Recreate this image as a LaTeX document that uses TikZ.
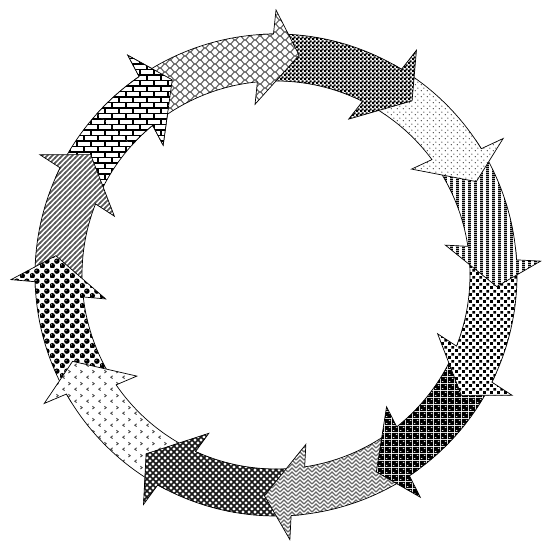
\documentclass[tikz,border=0pt]{standalone}
\usepackage{tikz}
\usetikzlibrary{patterns}

% fill patterns of the ring pieces
\pgfdeclarepatternformonly{waves}{\pgfqpoint{-1pt}{-1pt}}{\pgfqpoint{11pt}{9pt}}{\pgfqpoint{10pt}{8pt}}{%
  \pgfsetlinewidth{1.1pt}
  \pgfpathmoveto{\pgfqpoint{0pt}{0pt}}
  \pgfpathcurveto{\pgfqpoint{2pt}{0pt}}{\pgfqpoint{3pt}{4pt}}{\pgfqpoint{5pt}{4pt}}
  \pgfpathcurveto{\pgfqpoint{7pt}{4pt}}{\pgfqpoint{8pt}{0pt}}{\pgfqpoint{10pt}{0pt}}
  \pgfpathmoveto{\pgfqpoint{0pt}{8pt}}
  \pgfpathcurveto{\pgfqpoint{2pt}{8pt}}{\pgfqpoint{3pt}{4pt}}{\pgfqpoint{5pt}{4pt}}
  \pgfpathcurveto{\pgfqpoint{7pt}{4pt}}{\pgfqpoint{8pt}{8pt}}{\pgfqpoint{10pt}{8pt}}
  \pgfusepath{stroke}}
\pgfdeclarepatternformonly{finecheck}{\pgfpointorigin}{\pgfqpoint{4pt}{4pt}}{\pgfqpoint{4pt}{4pt}}{%
  \pgfpathrectangle{\pgfpointorigin}{\pgfqpoint{2.5pt}{2.5pt}}
  \pgfpathrectangle{\pgfqpoint{2pt}{2pt}}{\pgfqpoint{2.5pt}{2.5pt}}
  \pgfusepath{fill}}
\pgfdeclarepatternformonly{sparsedots}{\pgfpointorigin}{\pgfqpoint{6pt}{6pt}}{\pgfqpoint{6pt}{6pt}}{%
  \pgfpathcircle{\pgfqpoint{1.5pt}{1.5pt}}{0.8pt}
  \pgfpathcircle{\pgfqpoint{4.5pt}{4.5pt}}{0.8pt}
  \pgfusepath{fill}}
\pgfdeclarepatternformonly{vstripes}{\pgfpointorigin}{\pgfqpoint{6pt}{2pt}}{\pgfqpoint{6pt}{2pt}}{%
  \pgfpathrectangle{\pgfpointorigin}{\pgfqpoint{3.4pt}{2pt}}
  \pgfusepath{fill}}
\pgfdeclarepatternformonly{squaredots}{\pgfpointorigin}{\pgfqpoint{7pt}{7pt}}{\pgfqpoint{7pt}{7pt}}{%
  \pgfpathrectangle{\pgfqpoint{0.2pt}{0.2pt}}{\pgfqpoint{3.1pt}{3.1pt}}
  \pgfpathrectangle{\pgfqpoint{3.7pt}{3.7pt}}{\pgfqpoint{3.1pt}{3.1pt}}
  \pgfusepath{fill}}
\pgfdeclarepatternformonly{darkovals}{\pgfpointorigin}{\pgfqpoint{7pt}{6.6pt}}{\pgfqpoint{7pt}{6.6pt}}{%
  \pgfseteorule
  \pgfpathrectangle{\pgfpointorigin}{\pgfqpoint{7pt}{6.6pt}}
  \pgfpathellipse{\pgfqpoint{1.75pt}{1.65pt}}{\pgfqpoint{1.5pt}{0pt}}{\pgfqpoint{0pt}{0.75pt}}
  \pgfpathellipse{\pgfqpoint{5.25pt}{4.95pt}}{\pgfqpoint{1.5pt}{0pt}}{\pgfqpoint{0pt}{0.75pt}}
  \pgfusepath{fill}}
\pgfdeclarepatternformonly{weave}{\pgfqpoint{-1pt}{-1pt}}{\pgfqpoint{9pt}{9pt}}{\pgfqpoint{8pt}{8pt}}{%
  \pgfsetlinewidth{1.2pt}
  \pgfpathmoveto{\pgfqpoint{0pt}{0pt}}
  \pgfpathlineto{\pgfqpoint{4pt}{4pt}}
  \pgfpathlineto{\pgfqpoint{8pt}{0pt}}
  \pgfpathmoveto{\pgfqpoint{0pt}{4pt}}
  \pgfpathlineto{\pgfqpoint{4pt}{8pt}}
  \pgfpathlineto{\pgfqpoint{8pt}{4pt}}
  \pgfusepath{stroke}}
\pgfdeclarepatternformonly{darkcross}{\pgfqpoint{-1pt}{-1pt}}{\pgfqpoint{7pt}{7pt}}{\pgfqpoint{6pt}{6pt}}{%
  \pgfsetlinewidth{1.6pt}
  \pgfpathmoveto{\pgfqpoint{-1pt}{-1pt}}
  \pgfpathlineto{\pgfqpoint{7pt}{7pt}}
  \pgfpathmoveto{\pgfqpoint{-1pt}{7pt}}
  \pgfpathlineto{\pgfqpoint{7pt}{-1pt}}
  \pgfusepath{stroke}}
\pgfdeclarepatternformonly{chevrons}{\pgfpointorigin}{\pgfqpoint{12pt}{12pt}}{\pgfqpoint{12pt}{12pt}}{%
  \pgfsetlinewidth{1pt}
  \pgfpathmoveto{\pgfqpoint{5pt}{1.5pt}}
  \pgfpathlineto{\pgfqpoint{3pt}{3pt}}
  \pgfpathlineto{\pgfqpoint{5pt}{4.5pt}}
  \pgfpathmoveto{\pgfqpoint{9pt}{7.5pt}}
  \pgfpathlineto{\pgfqpoint{11pt}{9pt}}
  \pgfpathlineto{\pgfqpoint{9pt}{10.5pt}}
  \pgfusepath{stroke}}
\pgfdeclarepatternformonly{spheres}{\pgfpointorigin}{\pgfqpoint{10pt}{10pt}}{\pgfqpoint{10pt}{10pt}}{%
  \pgfseteorule
  \pgfpathcircle{\pgfqpoint{2.5pt}{2.5pt}}{3pt}
  \pgfpathcircle{\pgfqpoint{1.6pt}{3.4pt}}{0.9pt}
  \pgfpathcircle{\pgfqpoint{7.5pt}{7.5pt}}{3pt}
  \pgfpathcircle{\pgfqpoint{6.6pt}{8.4pt}}{0.9pt}
  \pgfusepath{fill}}
\pgfdeclarepatternformonly{nelines}{\pgfqpoint{-1pt}{-1pt}}{\pgfqpoint{6pt}{6pt}}{\pgfqpoint{5pt}{5pt}}{%
  \pgfsetlinewidth{1.5pt}
  \pgfpathmoveto{\pgfqpoint{-1pt}{-1pt}}
  \pgfpathlineto{\pgfqpoint{6pt}{6pt}}
  \pgfusepath{stroke}}
\pgfdeclarepatternformonly{wallbricks}{\pgfqpoint{-1pt}{-1pt}}{\pgfqpoint{15pt}{12pt}}{\pgfqpoint{14pt}{11pt}}{%
  \pgfsetlinewidth{1.1pt}
  \pgfpathmoveto{\pgfqpoint{0pt}{0pt}}
  \pgfpathlineto{\pgfqpoint{14pt}{0pt}}
  \pgfpathmoveto{\pgfqpoint{0pt}{5.5pt}}
  \pgfpathlineto{\pgfqpoint{14pt}{5.5pt}}
  \pgfpathmoveto{\pgfqpoint{0pt}{0pt}}
  \pgfpathlineto{\pgfqpoint{0pt}{5.5pt}}
  \pgfpathmoveto{\pgfqpoint{7pt}{5.5pt}}
  \pgfpathlineto{\pgfqpoint{7pt}{11pt}}
  \pgfusepath{stroke}}

% curved arrow on the ring: #1 fill style, #2 tail angle, #3 tip angle
\newcommand{\ringarrow}[3]{%
  \draw[ringpiece, #1] (#2:241) arc[start angle=#2, end angle={#3+6.6}, radius=241]
    -- ({#3+6}:265) -- (#3:221) -- ({#3+13}:172) -- ({#3+11.5}:194)
    arc[start angle={#3+11.5}, end angle=#2, radius=194] -- cycle;}

\begin{document}
\begin{tikzpicture}[
    x=1pt, y=1pt,
    ringpiece/.style={draw=black, line width=0.7pt, preaction={fill=white}},
    wavefill/.style={pattern=waves, pattern color=black!60},
    checkfill/.style={pattern=finecheck, pattern color=black},
    dotfill/.style={pattern=sparsedots, pattern color=black!70},
    stripefill/.style={pattern=vstripes, pattern color=black},
    squarefill/.style={pattern=squaredots, pattern color=black},
    ovalfill/.style={pattern=darkovals, pattern color=black},
    weavefill/.style={pattern=weave, pattern color=black!60},
    crossfill/.style={pattern=darkcross, pattern color=black!90},
    chevronfill/.style={pattern=chevrons, pattern color=black!70},
    spherefill/.style={pattern=spheres, pattern color=black},
    diagfill/.style={pattern=nelines, pattern color=black!65},
    brickfill/.style={pattern=wallbricks, pattern color=black}
]
\useasboundingbox (-276,-273) rectangle (265,275);

% each head lies over the tail of the next piece
\ringarrow{brickfill}{-204}{-242}
\ringarrow{diagfill}{-176}{-213}
\ringarrow{spherefill}{-148}{-185}
\ringarrow{chevronfill}{-117}{-157}
\ringarrow{crossfill}{-84}{-126}
\ringarrow{weavefill}{-54}{-93}
\ringarrow{ovalfill}{-24}{-63}
\ringarrow{squarefill}{6}{-33}
\ringarrow{stripefill}{34}{-3}
\ringarrow{dotfill}{61}{25}
\ringarrow{checkfill}{93}{52}
\ringarrow{wavefill}{127}{84}

% brick head again, over the tail of the wave piece
\begin{scope}
  \clip (0,0) -- (-262:330) -- (-242:330) -- (-222:330) -- cycle;
  \ringarrow{brickfill}{-204}{-242}
\end{scope}

\end{tikzpicture}
\end{document}
